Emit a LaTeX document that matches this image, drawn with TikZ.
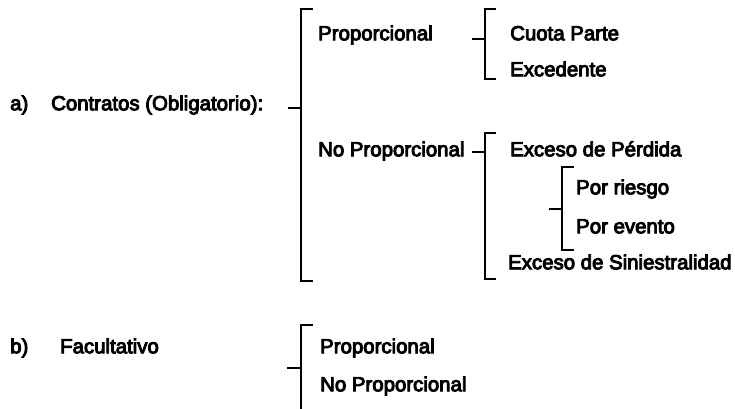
\documentclass[tikz,border=0pt]{standalone}
\usepackage{fontspec}
\setmainfont{Liberation Sans}
\newfontfamily\lblfont{Liberation Sans}[FakeBold=4.5]
\begin{document}
\begin{tikzpicture}[x=1pt,y=-1pt,
  lbl/.style={anchor=west,inner sep=0pt,text height=14.5pt,text depth=0pt,font=\lblfont\fontsize{20.4}{22}\selectfont},
  brk/.style={line width=1.8pt,line cap=butt}]
\useasboundingbox (0,0) rectangle (735,408);
% texts
\node[lbl] (a) at (10,103) {a)};
\node[lbl] (contr) at (51,103) {Contratos (Obligatorio):};
\node[lbl] (prop1) at (318,33) {Proporcional};
\node[lbl] (noprop1) at (318,149) {No Proporcional};
\node[lbl] (cuota) at (510,33) {Cuota Parte};
\node[lbl] (exced) at (510,69) {Excedente};
\node[lbl] (perd) at (510,149) {Exceso de P\'erdida};
\node[lbl] (riesgo) at (576,187) {Por riesgo};
\node[lbl] (evento) at (576,226) {Por evento};
\node[lbl] (sinie) at (508,262) {Exceso de Siniestralidad};
\node[lbl] (b) at (10,346) {b)};
\node[lbl] (facul) at (60,346) {Facultativo};
\node[lbl] (prop2) at (320,346) {Proporcional};
\node[lbl] (noprop2) at (320,384) {No Proporcional};
% bracket coordinates
\coordinate (A1) at (301,9); \coordinate (A2) at (301,281); \coordinate (Am) at (301,108); \coordinate (Ae) at (288,108);
\coordinate (B1) at (485,9); \coordinate (B2) at (485,79); \coordinate (Bm) at (485,39); \coordinate (Be) at (472,39);
\coordinate (C1) at (485,133); \coordinate (C2) at (485,279); \coordinate (Cm) at (485,152); \coordinate (Ce) at (472,152);
\coordinate (D1) at (562,167); \coordinate (D2) at (562,250); \coordinate (Dm) at (562,209); \coordinate (De) at (549,209);
\coordinate (E1) at (301,325); \coordinate (E2) at (301,410); \coordinate (Em) at (301,368); \coordinate (Ee) at (287,368);
% brackets
\draw[brk] ([xshift=12pt]A1) -- (A1) -- (A2) -- ([xshift=12pt]A2);
\draw[brk] (Ae) -- (Am);
\draw[brk] ([xshift=11pt]B1) -- (B1) -- (B2) -- ([xshift=11pt]B2);
\draw[brk] (Be) -- (Bm);
\draw[brk] ([xshift=11pt]C1) -- (C1) -- (C2) -- ([xshift=11pt]C2);
\draw[brk] (Ce) -- (Cm);
\draw[brk] ([xshift=12pt]D1) -- (D1) -- (D2) -- ([xshift=12pt]D2);
\draw[brk] (De) -- (Dm);
\draw[brk] ([xshift=12pt]E1) -- (E1) -- (E2);
\draw[brk] (Ee) -- (Em);
\end{tikzpicture}
\end{document}
